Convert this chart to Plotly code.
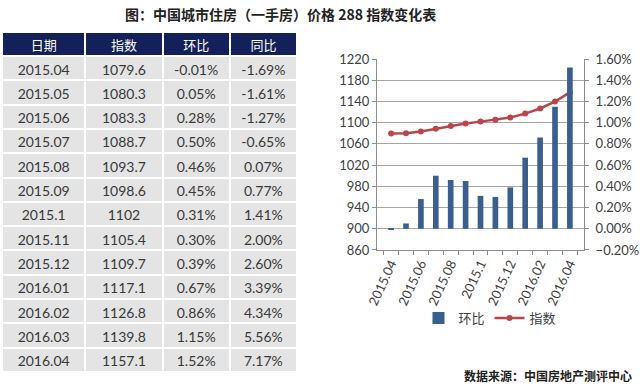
import plotly.graph_objects as go

dates = ["2015.04", "2015.05", "2015.06", "2015.07", "2015.08", "2015.09", "2015.1",
         "2015.11", "2015.12", "2016.01", "2016.02", "2016.03", "2016.04"]
index_vals = [1079.6, 1080.3, 1083.3, 1088.7, 1093.7, 1098.6, 1102,
              1105.4, 1109.7, 1117.1, 1126.8, 1139.8, 1157.1]
mom_pct = [-0.01, 0.05, 0.28, 0.50, 0.46, 0.45, 0.31, 0.30, 0.39, 0.67, 0.86, 1.15, 1.52]
yoy_pct = [-1.69, -1.61, -1.27, -0.65, 0.07, 0.77, 1.41, 2.00, 2.60, 3.39, 4.34, 5.56, 7.17]
headers = ["日期", "指数", "环比", "同比"]
left_ticks = [860, 900, 940, 980, 1020, 1060, 1100, 1140, 1180, 1220]
right_ticks = [-0.002, 0.0, 0.002, 0.004, 0.006, 0.008, 0.010, 0.012, 0.014, 0.016]

W, H = 640, 389
FONT = "Lato, Noto Sans CJK SC, sans-serif"
CJK = "Noto Sans CJK SC, sans-serif"

def px(x):
    return x / W

def py(y):
    return 1 - y / H

fig = go.Figure()

fig.add_trace(go.Table(
    domain=dict(x=[px(2), px(297)], y=[0, py(32)]),
    columnwidth=[83, 77, 67, 67],
    header=dict(
        values=headers,
        fill_color="#13205a",
        line=dict(color="white", width=2),
        font=dict(family=CJK, size=13, color="white"),
        align="center",
        height=24,
    ),
    cells=dict(
        values=[dates, index_vals, [v for v in mom_pct], [v for v in yoy_pct]],
        format=["", "", ".2f", ".2f"],
        suffix=["", "", "%", "%"],
        fill_color="#e4e4e4",
        line=dict(color="white", width=2),
        font=dict(family=FONT, size=14, color="#383838"),
        align="center",
        height=24.3,
    ),
))

fig.add_trace(go.Bar(
    x=dates, y=[v / 100 for v in mom_pct], name="环比",
    marker=dict(color="#3a5f8f", line=dict(width=0)),
    yaxis="y2", xaxis="x",
))
fig.add_trace(go.Scatter(
    x=dates, y=index_vals, name="指数", mode="lines+markers",
    line=dict(color="#b9464a", width=2.5),
    marker=dict(symbol="circle", size=6, color="#b9464a"),
    yaxis="y", xaxis="x",
))

axis_font = dict(family=FONT, size=13, color="#404040")
fig.update_layout(
    width=W, height=H,
    margin=dict(l=0, r=0, t=0, b=0, autoexpand=False),
    paper_bgcolor="white", plot_bgcolor="white",
    bargap=0.62,
    showlegend=True,
    legend=dict(orientation="h", x=px(490), xanchor="center", y=py(318), yanchor="middle",
                font=dict(family=CJK, size=13, color="#404040"), traceorder="normal",
                itemwidth=30, bgcolor="rgba(0,0,0,0)"),
    xaxis=dict(
        domain=[px(377), px(584)], anchor="y", type="category", automargin=False,
        tickmode="array", tickvals=dates,
        ticktext=[d if i % 2 == 0 else "" for i, d in enumerate(dates)],
        tickangle=-65, tickson="boundaries", ticks="outside", ticklen=4,
        tickcolor="#8c8c8c", showline=True, linecolor="#8c8c8c", linewidth=1,
        showgrid=False, tickfont=axis_font, fixedrange=True,
    ),
    yaxis=dict(
        domain=[py(250), py(59)], anchor="x", range=[859.9, 1220.1],
        tickmode="array", tickvals=left_ticks, ticklabeloverflow="allow",
        automargin=False,
        ticks="outside", ticklen=4, tickcolor="#8c8c8c", showline=True,
        linecolor="#8c8c8c", showgrid=True, gridcolor="#a6a6a6", gridwidth=1,
        zeroline=False, tickfont=axis_font,
    ),
    yaxis2=dict(
        overlaying="y", side="right", anchor="x", range=[-0.0020005, 0.0160005],
        tickmode="array", tickvals=right_ticks, ticklabeloverflow="allow",
        automargin=False, ticklabelstandoff=4,
        tickformat=".2%", ticks="outside", ticklen=4, tickcolor="#8c8c8c",
        showline=True, linecolor="#8c8c8c", showgrid=False, zeroline=False,
        tickfont=axis_font,
    ),
    annotations=[
        dict(text="<b>图：中国城市住房（一手房）价格 288 指数变化表</b>", x=px(280), y=py(14),
             xref="paper", yref="paper", showarrow=False, xanchor="center", yanchor="middle",
             font=dict(family=CJK, size=14, color="#222222")),
        dict(text="<b>数据来源：中国房地产测评中心</b>", x=px(634), y=py(375),
             xref="paper", yref="paper", showarrow=False, xanchor="right", yanchor="middle",
             font=dict(family=CJK, size=12, color="#222222")),
    ],
)

fig.write_html("out.html", config={"displayModeBar": False},
               post_script="document.body.style.margin='0';")
